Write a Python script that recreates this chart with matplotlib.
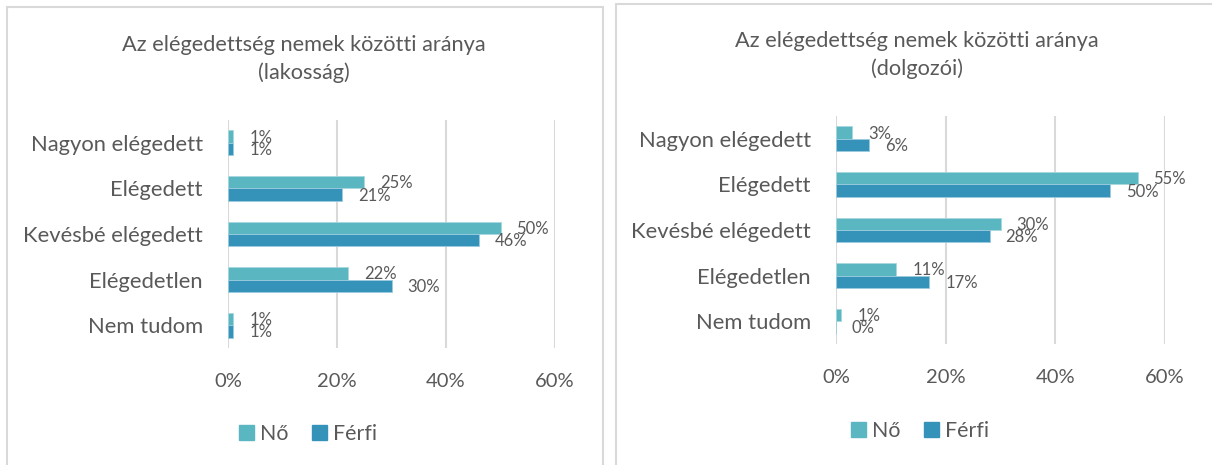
import matplotlib
matplotlib.use("Agg")
import matplotlib.pyplot as plt
from matplotlib.patches import Rectangle, Patch
from matplotlib.ticker import FuncFormatter

plt.rcParams['font.family'] = ['Lato', 'DejaVu Sans']

categories = ['Nagyon elégedett', 'Elégedett', 'Kevésbé elégedett', 'Elégedetlen', 'Nem tudom']
series_names = ['Nő', 'Férfi']

# lakosság
lak_no = [1, 25, 50, 22, 1]
lak_ferfi = [1, 21, 46, 30, 1]
# dolgozói
dolg_no = [3, 55, 30, 11, 1]
dolg_ferfi = [6, 50, 28, 17, 0]

x_ticks = [0, 20, 40, 60]
titles = ['Az elégedettség nemek közötti aránya\n(lakosság)',
          'Az elégedettség nemek közötti aránya\n(dolgozói)']

col_no = '#5AB6C0'
col_ferfi = '#3593BA'
txt = '#595959'
grid = '#D9D9D9'

W, H = 1212, 465
fig = plt.figure(figsize=(W / 100, H / 100), dpi=100)


def px_axes(x0, x1, ytop, ybot):
    return fig.add_axes([x0 / W, 1 - ybot / H, (x1 - x0) / W, (ybot - ytop) / H])


def panel(ax, no, ferfi, title, title_xy, legend_xy):
    pos = list(range(len(categories)))
    h = 0.27
    ax.barh([p - h / 2 for p in pos], no, height=h, color=col_no,
            edgecolor='#A8D8DE', linewidth=0.6)
    ax.barh([p + h / 2 for p in pos], ferfi, height=h, color=col_ferfi,
            edgecolor='#9CCBE0', linewidth=0.6)
    for p, v in zip(pos, no):
        ax.annotate(f'{v}%', (v, p - h / 2), xytext=(16, -1), textcoords='offset pixels',
                    ha='left', va='center', fontsize=12, color=txt)
    for p, v in zip(pos, ferfi):
        ax.annotate(f'{v}%', (v, p + h / 2), xytext=(16, -1), textcoords='offset pixels',
                    ha='left', va='center', fontsize=12, color=txt)

    ax.set_xlim(0, 60)
    ax.set_ylim(len(categories) - 0.5, -0.5)
    ax.set_yticks(pos)
    ax.set_yticklabels(categories)
    ax.set_xticks(x_ticks)
    ax.xaxis.set_major_formatter(FuncFormatter(lambda v, _: f'{v:.0f}%'))
    ax.tick_params(axis='y', length=0, pad=18, labelsize=15.8, labelcolor=txt)
    ax.tick_params(axis='x', length=0, pad=18, labelsize=14.5, labelcolor=txt)
    ax.grid(axis='x', color=grid, linewidth=1.5)
    ax.set_axisbelow(True)
    for s in ax.spines.values():
        s.set_visible(False)

    fig.text(title_xy[0] / W, 1 - title_xy[1] / H, title, ha='center', va='center',
             fontsize=15.7, color=txt, linespacing=1.5)

    handles = [Patch(color=col_no, label=series_names[0]),
               Patch(color=col_ferfi, label=series_names[1])]
    fig.legend(handles=handles, loc='center', ncol=2, frameon=False,
               bbox_to_anchor=(legend_xy[0] / W, 1 - legend_xy[1] / H),
               fontsize=15.4, labelcolor=txt, handlelength=0.7, handleheight=0.7,
               handletextpad=0.3, columnspacing=1.1)


ax1 = px_axes(228, 555, 120, 348)
panel(ax1, lak_no, lak_ferfi, titles[0], (304, 59), (308, 434))

ax2 = px_axes(836, 1165, 116, 344)
panel(ax2, dolg_no, dolg_ferfi, titles[1], (917, 55), (920, 431))

# chart area borders
for x0, x1, y0 in [(6.5, 602.5, 7.5), (615.5, 1230, 4.5)]:
    fig.patches.append(Rectangle((x0 / W, -0.1), (x1 - x0) / W, 1.1 - y0 / H,
                                 transform=fig.transFigure, fill=False,
                                 edgecolor=grid, linewidth=1.5))

fig.savefig('out.png', dpi=100)
